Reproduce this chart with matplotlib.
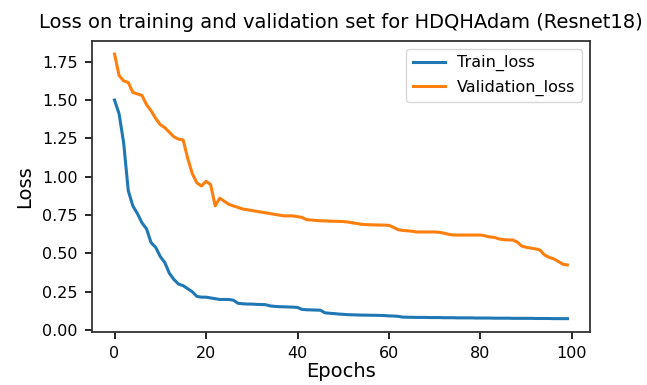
import numpy as np
import matplotlib
matplotlib.use('Agg')
import matplotlib.pyplot as plt

# Loss values per epoch
train_loss = [
    1.50, 1.41, 1.22, 0.91, 0.81, 0.76, 0.70, 0.66, 0.57, 0.54,
    0.48, 0.44, 0.37, 0.33, 0.30, 0.29, 0.27, 0.25, 0.22, 0.215,
    0.215, 0.21, 0.205, 0.20, 0.20, 0.20, 0.195, 0.175, 0.172, 0.170,
    0.170, 0.168, 0.167, 0.166, 0.158, 0.155, 0.153, 0.152, 0.151, 0.150,
    0.148, 0.135, 0.133, 0.132, 0.131, 0.130, 0.113, 0.110, 0.108, 0.105,
    0.103, 0.101, 0.100, 0.099, 0.098, 0.098, 0.097, 0.097, 0.096, 0.095,
    0.093, 0.092, 0.090, 0.085, 0.084, 0.084, 0.083, 0.083, 0.083, 0.082,
    0.082, 0.082, 0.081, 0.081, 0.081, 0.080, 0.080, 0.080, 0.080, 0.079,
    0.079, 0.079, 0.079, 0.078, 0.078, 0.078, 0.078, 0.077, 0.077, 0.077,
    0.077, 0.077, 0.076, 0.076, 0.076, 0.076, 0.075, 0.075, 0.075, 0.075,
]
val_loss = [
    1.80, 1.66, 1.625, 1.615, 1.55, 1.54, 1.53, 1.47, 1.43, 1.38,
    1.34, 1.32, 1.29, 1.26, 1.245, 1.24, 1.12, 1.02, 0.96, 0.94,
    0.97, 0.95, 0.81, 0.86, 0.84, 0.82, 0.81, 0.80, 0.79, 0.785,
    0.78, 0.775, 0.77, 0.765, 0.76, 0.755, 0.75, 0.745, 0.745, 0.745,
    0.74, 0.735, 0.72, 0.718, 0.715, 0.713, 0.712, 0.711, 0.71, 0.709,
    0.708, 0.705, 0.70, 0.695, 0.69, 0.688, 0.687, 0.686, 0.685, 0.685,
    0.683, 0.670, 0.655, 0.650, 0.648, 0.645, 0.640, 0.640, 0.640, 0.640,
    0.640, 0.638, 0.632, 0.625, 0.620, 0.620, 0.620, 0.620, 0.620, 0.620,
    0.620, 0.615, 0.607, 0.605, 0.595, 0.590, 0.588, 0.588, 0.575, 0.548,
    0.540, 0.535, 0.530, 0.522, 0.490, 0.475, 0.465, 0.448, 0.430, 0.425,
]
epochs = np.arange(len(train_loss))

fig = plt.figure(figsize=(6.47, 3.85), dpi=100)
ax = fig.add_axes([0.142, 0.138, 0.770, 0.756])

ax.plot(epochs, train_loss, color='#1f77b4', linewidth=2.2, label='Train_loss')
ax.plot(epochs, val_loss, color='#ff7f0e', linewidth=2.2, label='Validation_loss')

ax.set_title('Loss on training and validation set for HDQHAdam (Resnet18)', fontsize=14, pad=9)
ax.set_xlabel('Epochs', fontsize=14, labelpad=1)
ax.set_ylabel('Loss', fontsize=14, labelpad=6)
ax.set_xticks([0, 20, 40, 60, 80, 100])
ax.set_yticks(np.arange(0, 1.76, 0.25))
ax.tick_params(labelsize=11.5, length=5, pad=5, width=1.2)
for spine in ax.spines.values():
    spine.set_linewidth(1.3)
    spine.set_color('#333333')
ax.legend(loc='upper right', fontsize=11.5, borderaxespad=0.5)

fig.savefig('out.png', dpi=100)
